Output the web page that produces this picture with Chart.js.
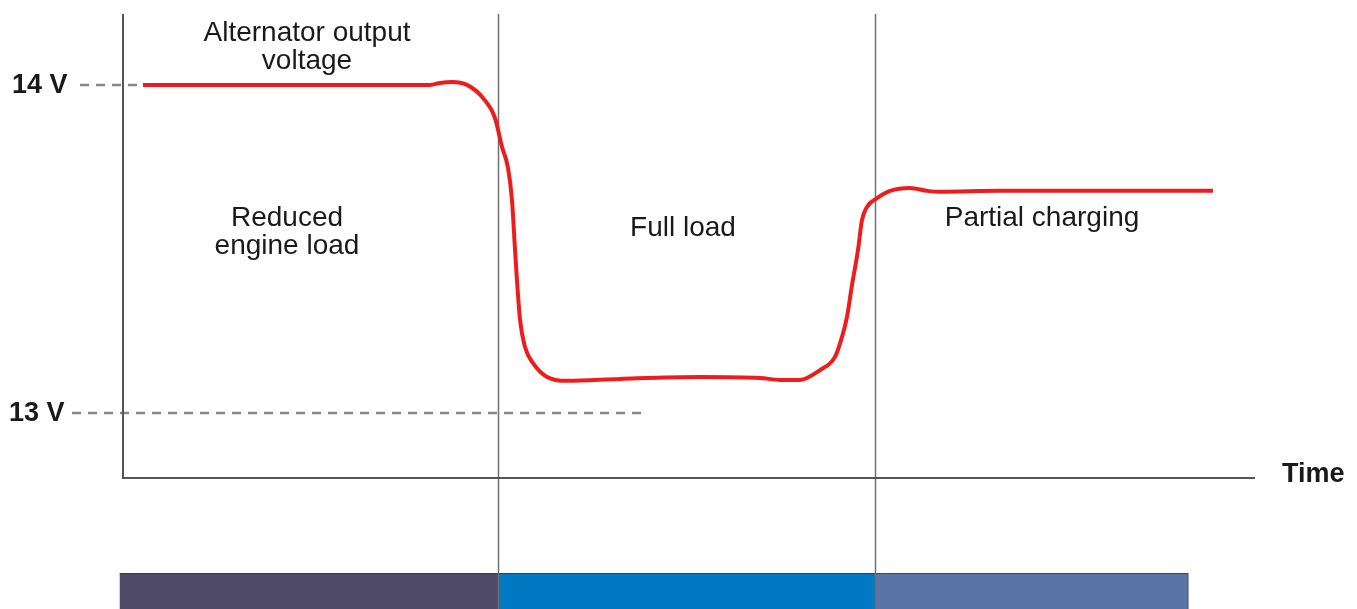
<!DOCTYPE html>
<html>
<head>
<meta charset="utf-8">
<script src="https://cdn.jsdelivr.net/npm/chart.js@4/dist/chart.umd.min.js"></script>
<style>
  html, body { margin: 0; padding: 0; background: #fff; }
  #wrap { width: 1357px; height: 609px; position: relative; }
</style>
</head>
<body>
<div id="wrap"><canvas id="c"></canvas></div>
<script>
// time (arbitrary units, 0..100) and voltage
const times = [1.85, 15.71, 27.18, 28.07, 29.13, 30.45, 31.86, 32.92, 33.54, 34.07, 34.42, 34.69, 34.86, 35.13,
  35.57, 36.28, 37.51, 39.28, 43.95, 51.02, 56.31, 58.08, 59.84, 61.61, 62.93, 63.55, 63.99, 64.43, 64.96,
  65.31, 65.75, 66.64, 67.79, 69.55, 71.05, 72.2, 77.49, 86.32, 96.29];
const volts = [14.0, 14.0, 14.0, 14.006, 14.009, 14.0, 13.96, 13.899, 13.811, 13.747, 13.649, 13.497, 13.405, 13.284,
  13.201, 13.152, 13.11, 13.098, 13.104, 13.11, 13.107, 13.101, 13.101, 13.131, 13.171, 13.232, 13.293, 13.39, 13.497,
  13.588, 13.628, 13.655, 13.677, 13.686, 13.677, 13.674, 13.677, 13.677, 13.677];

// load phases along the time axis
const phaseNames = ['Reduced engine load', 'Full load', 'Partial charging'];
const phaseStart = [-0.2, 33.2, 66.5];
const phaseEnd = [33.2, 66.5, 94.1];
const phaseColors = ['#4e4a68', '#0079c2', '#5a74a5'];

const tickValues = [14, 13];
const tickLabels = ['14 V', '13 V'];
const tickDashEnd = [1.85, 46.4];

const FONT = '"Liberation Sans", Arial, sans-serif';

const overlay = {
  id: 'overlay',
  beforeDatasetsDraw(chart) {
    const { ctx, chartArea: a, scales: { x, y } } = chart;
    ctx.save();

    // phase bars below the plot
    phaseStart.forEach((s, i) => {
      const x0 = x.getPixelForValue(s), x1 = x.getPixelForValue(phaseEnd[i]);
      ctx.fillStyle = phaseColors[i];
      ctx.fillRect(x0, 573, x1 - x0, 40);
      ctx.strokeStyle = 'rgba(40,40,50,0.6)';
      ctx.lineWidth = 1;
      ctx.beginPath();
      ctx.moveTo(x0, 573.5); ctx.lineTo(x1, 573.5);
      ctx.stroke();
    });
    const xe = x.getPixelForValue(phaseEnd[2]);
    ctx.beginPath(); ctx.moveTo(xe, 573); ctx.lineTo(xe, 609); ctx.stroke();

    // phase boundaries
    ctx.strokeStyle = '#707070';
    ctx.lineWidth = 1.5;
    [phaseStart[1], phaseStart[2]].forEach(v => {
      const px = Math.round(x.getPixelForValue(v)) + 0.5;
      ctx.beginPath(); ctx.moveTo(px, a.top); ctx.lineTo(px, 609); ctx.stroke();
    });

    // dashed reference lines
    ctx.strokeStyle = '#868686';
    ctx.lineWidth = 2.6;
    ctx.setLineDash([9, 7]);
    tickValues.forEach((v, i) => {
      const py = Math.round(y.getPixelForValue(v));
      ctx.beginPath();
      ctx.moveTo(i === 0 ? 80 : 72, py);
      ctx.lineTo(x.getPixelForValue(tickDashEnd[i]), py);
      ctx.stroke();
    });
    ctx.setLineDash([]);

    // axes
    ctx.strokeStyle = '#555';
    ctx.lineWidth = 2;
    ctx.beginPath();
    ctx.moveTo(a.left + 1, a.top); ctx.lineTo(a.left + 1, a.bottom); ctx.lineTo(a.right, a.bottom);
    ctx.stroke();

    // texts
    ctx.fillStyle = '#1a1a1a';
    ctx.textBaseline = 'middle';
    ctx.font = 'bold 27px ' + FONT;
    ctx.textAlign = 'left';
    tickValues.forEach((v, i) => {
      ctx.fillText(tickLabels[i], i === 0 ? 12 : 9, y.getPixelForValue(v) + 1);
    });
    ctx.fillText('Time', 1282, a.bottom - 3);

    ctx.font = '28px ' + FONT;
    ctx.textAlign = 'center';
    ctx.fillText('Alternator output', 307, 33);
    ctx.fillText('voltage', 307, 61);
    ctx.fillText('Reduced', 287, 218);
    ctx.fillText('engine load', 287, 246);
    ctx.fillText(phaseNames[1], 683, 228);
    ctx.fillText(phaseNames[2], 1042, 218);
    ctx.restore();
  }
};

new Chart(document.getElementById('c'), {
  type: 'line',
  data: {
    datasets: [{
      data: times.map((t, i) => ({ x: t, y: volts[i] })),
      borderColor: '#ee1d1d',
      borderWidth: 4,
      pointRadius: 0,
      fill: false,
      cubicInterpolationMode: 'monotone',
    }]
  },
  options: {
    responsive: true,
    maintainAspectRatio: false,
    animation: false,
    layout: { padding: { left: 122, right: 102, top: 14, bottom: 131 } },
    plugins: { legend: { display: false }, tooltip: { enabled: false } },
    scales: {
      x: { type: 'linear', min: 0, max: 100, display: false },
      y: { min: 12.802, max: 14.216, display: false }
    }
  },
  plugins: [overlay]
});
</script>
</body>
</html>
